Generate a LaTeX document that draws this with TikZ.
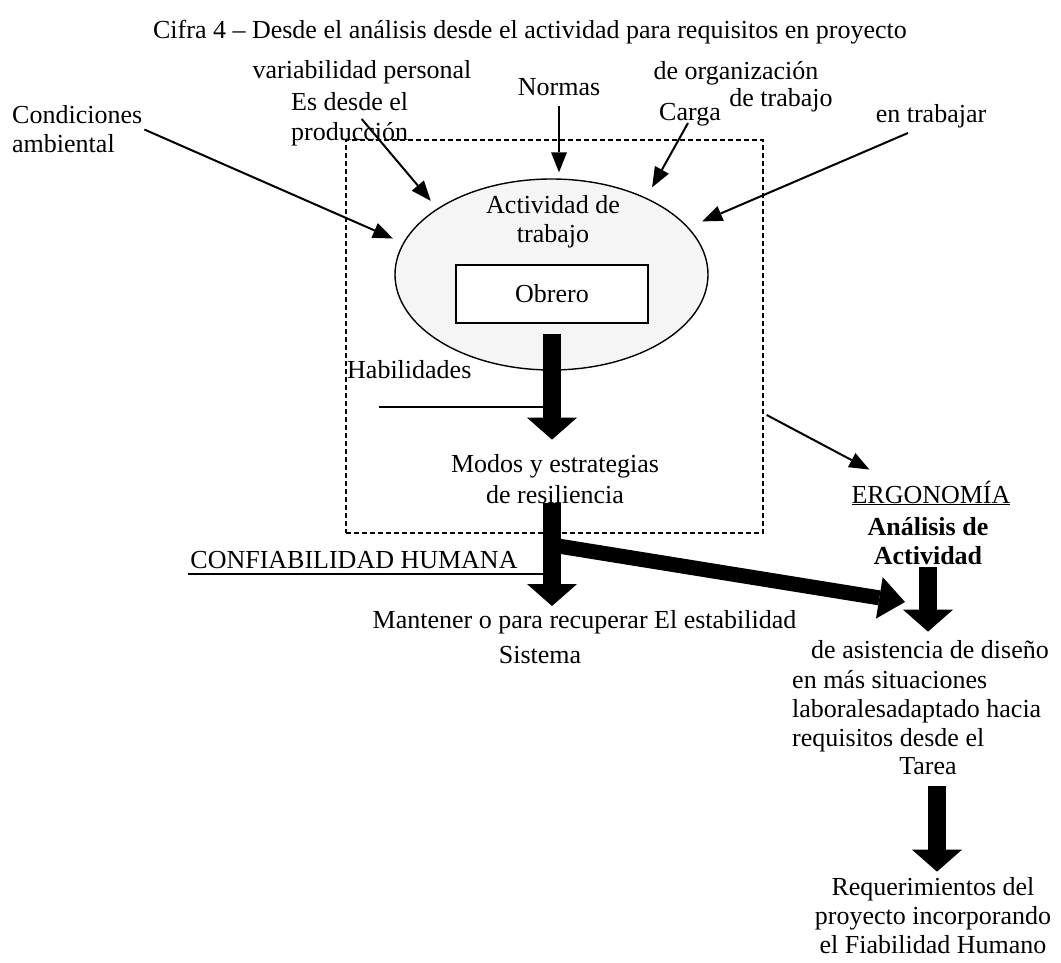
\documentclass[tikz,border=0pt]{standalone}
\usepackage{fontspec}
\setmainfont{Liberation Serif}
\usetikzlibrary{arrows.meta, shapes.geometric}
\definecolor{ovalgray}{RGB}{245,245,245}

\begin{document}
\begin{tikzpicture}[x=1pt, y=-1pt,
    every node/.style={font=\fontsize{26pt}{29pt}\selectfont, inner sep=2pt},
    thinarrow/.style={line width=2pt, -{Triangle[length=20pt,width=16pt,line width=0pt]}},
    blockarrow/.style={line width=18pt, -{Triangle[length=22pt,width=50pt,line width=0pt]}},
    bandarrow/.style={line width=15pt, -{Triangle[length=26pt,width=42pt,line width=0pt]}},
    framebox/.style={draw, dash pattern=on 5pt off 3pt, line width=1.4pt, minimum width=417pt, minimum height=393pt},
    oval/.style={ellipse, draw, fill=ovalgray, line width=1.4pt, minimum width=313pt, minimum height=191pt},
    workerbox/.style={rectangle, draw, fill=white, line width=1.4pt, minimum width=192pt, minimum height=58pt},
  ]
  \useasboundingbox (0,0) rectangle (1061,963);

  \node (title)   at (530,32)  {Cifra 4 -- Desde el análisis desde el actividad para requisitos en proyecto};
  \node (varper)  at (362,72)  {variabilidad personal};
  \node (esdesde) at (289,119) [anchor=west, align=left] {Es desde el\\[1pt]producción};
  \node (cond)    at (10,129.5) [anchor=west, align=left] {Condiciones\\ambiental};
  \node (normas)  at (559,87)  {Normas};
  \node (deorg)   at (736,73)  {de organización};
  \node (detrab)  at (781,100) {de trabajo};
  \node (carga)   at (690,115) {Carga};
  \node (entrab)  at (931,116) {en trabajar};

  \node (frame)   at (554.5,336.5) [framebox] {};
  \node (act)     at (551.5,274.5) [oval] {};
  \node (actlbl)  at (553,222) [align=center] {Actividad de\\trabajo};
  \node (obrero)  at (552,294) [workerbox] {Obrero};
  \node (habil)   at (345,370) [anchor=west] {Habilidades};
  \node (modos)   at (555,479.5) [align=center] {Modos y estrategias\\[2pt]de resiliencia};
  \node (confi)   at (354,560) {CONFIABILIDAD HUMANA};
  \node (mant)    at (584.5,622) {Mantener o para recuperar El estabilidad};
  \node (sist)    at (540,655) {Sistema};

  \node (ergo)    at (931,493) {\underline{ERGONOMÍA}};
  \node (anal)    at (928,541) [align=center, font=\fontsize{26pt}{29pt}\selectfont\bfseries] {Análisis de\\Actividad};
  \node (asist)   at (930,650) {de asistencia de diseño};
  \node (situ)    at (790,711) [anchor=west, align=left] {en más situaciones\\laboralesadaptado hacia\\requisitos desde el};
  \node (tarea)   at (928,766) {Tarea};
  \node (req)     at (933,916) [align=center] {Requerimientos del\\proyecto incorporando\\el Fiabilidad Humano};

  \coordinate (split) at (552,545);
  \coordinate (join)  at (905,602);

  \draw[thinarrow, shorten >=11pt] (cond.east) -- (act.168.6);
  \draw[thinarrow, shorten >=10pt] ([xshift=12pt]esdesde.center) -- (act.150.7);
  \draw[thinarrow, shorten <=8pt, shorten >=6pt] (normas.south) -- (normas.south |- act.north);
  \draw[thinarrow, shorten >=12pt] ([shift={(-2pt,-8pt)}]carga.center) -- (act.39.9);
  \draw[thinarrow, shorten >=15pt] ([shift={(-23pt,-3pt)}]entrab.south) -- (act.19.9);
  \draw[thinarrow] ([shift={(3pt,-78.5pt)}]frame.east) -- ([shift={(20pt,9pt)}]ergo.north west);

  \draw[line width=1.8pt] ([shift={(34pt,-26pt)}]habil.south west) -- ([yshift=-26pt]habil.south west -| obrero.south);
  \draw[line width=1.8pt] ([yshift=-3pt]confi.south west) -- ([yshift=-3pt]confi.south west -| split);

  \draw[blockarrow, shorten <=10pt, shorten >=13pt] (obrero.south) -- (obrero.south |- modos.north);
  \draw[bandarrow] (split) -- (join);
  \draw[blockarrow, shorten <=-3pt, shorten >=2pt] ([xshift=-3pt]modos.south) -- ([xshift=-3pt]modos.south |- mant.north);
  \draw[blockarrow, shorten <=0pt, shorten >=7pt] (anal.south) -- (anal.south |- asist.north);
  \draw[blockarrow, shorten <=9pt, shorten >=4pt] ([xshift=9pt]tarea.south) -- ([xshift=9pt]tarea.south |- req.north);
\end{tikzpicture}
\end{document}
